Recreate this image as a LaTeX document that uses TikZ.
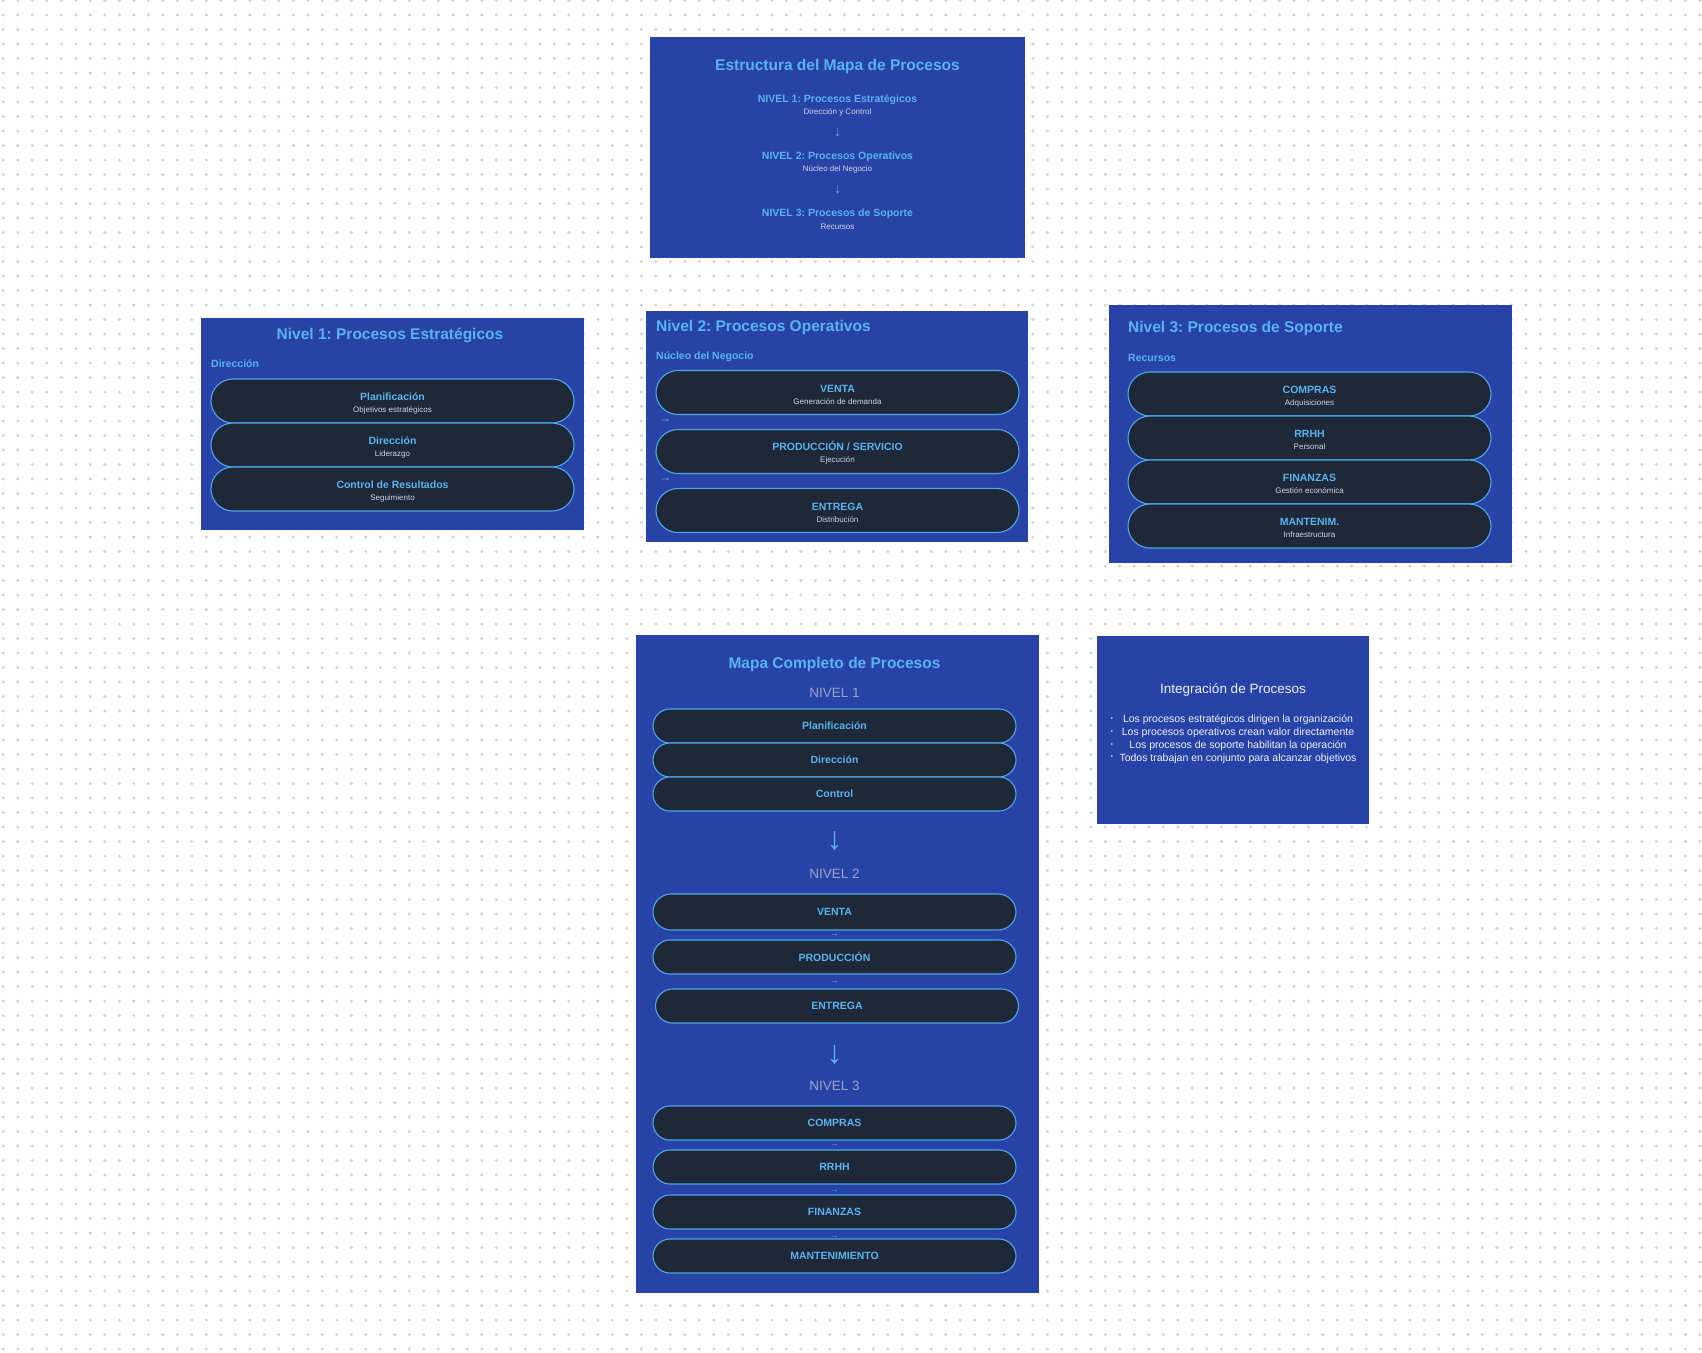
\documentclass[tikz,border=0pt]{standalone}
\usepackage{fontspec}
\setmainfont{Liberation Sans}
\usepackage{tikz}
\usetikzlibrary{positioning,shapes.misc}
\definecolor{panelblue}{HTML}{2843A8}
\definecolor{pillfill}{HTML}{1F2838}
\definecolor{pillline}{HTML}{4DA6E8}
\definecolor{lblue}{HTML}{58B3EF}
\definecolor{subgray}{HTML}{D2D6DE}
\definecolor{nivgray}{HTML}{9AA4C2}
\definecolor{softwhite}{HTML}{EEF1F8}
\definecolor{dotgray}{HTML}{D4D4D4}
\frenchspacing
\newcommand\pilltext[2]{{\fontsize{10.5}{12}\selectfont\bfseries\color{lblue}\rule{0pt}{12pt}#1}\\{\color{subgray}#2}}

\begin{document}
\begin{tikzpicture}[x=1pt,y=-1pt,node distance=0pt,
  panel/.style={fill=panelblue,anchor=north west,inner sep=0pt},
  pill/.style={rounded rectangle,draw=pillline,fill=pillfill,line width=1.1pt,outer sep=0pt,
    minimum width=363pt,minimum height=44pt,inner sep=0pt,align=center,font=\fontsize{8}{12}\selectfont},
  minipill/.style={pill,minimum height=34pt,font=\fontsize{10.5}{12}\selectfont\bfseries,text=lblue},
  head/.style={font=\fontsize{15.5}{18}\selectfont\bfseries,text=lblue,inner sep=0pt},
  tag/.style={font=\fontsize{10.5}{12}\selectfont\bfseries,text=lblue,inner sep=0pt},
  note/.style={font=\fontsize{8}{10}\selectfont,text=subgray,inner sep=0pt},
  nivel/.style={font=\fontsize{13.5}{16}\selectfont,text=nivgray,inner sep=0pt},
  flow/.style={font=\fontsize{14}{16}\selectfont,text=lblue,inner sep=0pt},
  point/.style={font=\fontsize{10.5}{12}\selectfont,text=softwhite,inner sep=0pt}]
\useasboundingbox (0,0) rectangle (1702,1352);
\fill[white] (0,0) rectangle (1702,1352);
% dot grid
\foreach \r in {0,...,93}
  \draw[dotgray,line width=3.4pt,line cap=round,dash pattern=on 0pt off 14.5pt] (3.3,0.5+14.5*\r) -- (1702,0.5+14.5*\r);

% estructura
\node[panel,minimum width=375pt,minimum height=221pt] (estr) at (650,37) {};
\node[head] (estrT) at (837.5,66.5) {Estructura del Mapa de Procesos};
\node[tag] (lv1) at (837.5,100) {NIVEL 1: Procesos Estratégicos};
\node[note] (lv1s) at (837.5,112.5) {Dirección y Control};
\node[flow] (dn1) at (837.5,133) {↓};
\node[tag] (lv2) at (837.5,157) {NIVEL 2: Procesos Operativos};
\node[note] (lv2s) at (837.5,169.5) {Núcleo del Negocio};
\node[flow] (dn2) at (837.5,190) {↓};
\node[tag] (lv3) at (837.5,214) {NIVEL 3: Procesos de Soporte};
\node[note] (lv3s) at (837.5,226.5) {Recursos};

% nivel 1
\node[panel,minimum width=383pt,minimum height=212pt] (niv1) at (201,318) {};
\node[head] (niv1T) at (390,335.5) {Nivel 1: Procesos Estratégicos};
\node[tag,anchor=west] (niv1L) at (211,364) {Dirección};
\node[pill] (plan) at (392.5,401) {\pilltext{Planificación}{Objetivos estratégicos}};
\node[pill,below=of plan] (direc) {\pilltext{Dirección}{Liderazgo}};
\node[pill,below=of direc] (ctrl) {\pilltext{Control de Resultados}{Seguimiento}};

% nivel 2
\node[panel,minimum width=382pt,minimum height=231pt] (niv2) at (646,311) {};
\node[head,anchor=west] (niv2T) at (656,327.5) {Nivel 2: Procesos Operativos};
\node[tag,anchor=west] (niv2L) at (656,357) {Núcleo del Negocio};
\node[pill] (venta) at (837.5,392.5) {\pilltext{VENTA}{Generación de demanda}};
\node[pill,below=15pt of venta] (prod) {\pilltext{PRODUCCIÓN / SERVICIO}{Ejecución}};
\node[pill,below=15pt of prod] (entr) {\pilltext{ENTREGA}{Distribución}};
\node[flow,font=\fontsize{12}{14}\selectfont] (rt1) at (665,421) {→};
\node[flow,font=\fontsize{12}{14}\selectfont] (rt2) at (665,480) {→};

% nivel 3
\node[panel,minimum width=403pt,minimum height=258pt] (niv3) at (1109,305) {};
\node[head,anchor=west] (niv3T) at (1128,328.5) {Nivel 3: Procesos de Soporte};
\node[tag,anchor=west] (niv3L) at (1128,358) {Recursos};
\node[pill] (comp) at (1309.5,394) {\pilltext{COMPRAS}{Adquisiciones}};
\node[pill,below=of comp] (rrhh) {\pilltext{RRHH}{Personal}};
\node[pill,below=of rrhh] (fin) {\pilltext{FINANZAS}{Gestión económica}};
\node[pill,below=of fin] (mant) {\pilltext{MANTENIM.}{Infraestructura}};

% mapa completo
\node[panel,minimum width=403pt,minimum height=658pt] (mapa) at (636,635) {};
\node[head] (mapaT) at (834.5,664.5) {Mapa Completo de Procesos};
\node[nivel] (m1) at (834.5,692.5) {NIVEL 1};
\node[minipill] (mplan) at (834.5,726) {Planificación};
\node[minipill,below=of mplan] (mdir) {Dirección};
\node[minipill,below=of mdir] (mctrl) {Control};
\node[flow,font=\fontsize{32}{34}\selectfont] (big1) at (834.5,841) {↓};
\node[nivel] (m2) at (834.5,873.5) {NIVEL 2};
\node[minipill,minimum height=36pt] (mventa) at (834.5,912) {VENTA};
\node[minipill,below=10pt of mventa] (mprod) {PRODUCCIÓN};
\node[minipill,below=15pt of mprod,xshift=2.5pt] (mentr) {ENTREGA};
\node[flow,font=\fontsize{32}{34}\selectfont] (big2) at (834.5,1055) {↓};
\node[nivel] (m3) at (834.5,1085.5) {NIVEL 3};
\node[minipill] (mcomp) at (834.5,1123) {COMPRAS};
\node[minipill,below=10pt of mcomp] (mrrhh) {RRHH};
\node[minipill,below=11pt of mrrhh] (mfin) {FINANZAS};
\node[minipill,below=10pt of mfin] (mmant) {MANTENIMIENTO};
\node[flow,font=\fontsize{8.5}{9}\selectfont] (t1) at (834.5,935) {→};
\node[flow,font=\fontsize{8.5}{9}\selectfont] (t2) at (834.5,982) {→};
\node[flow,font=\fontsize{8.5}{9}\selectfont] (t3) at (834.5,1145) {→};
\node[flow,font=\fontsize{8.5}{9}\selectfont] (t4) at (834.5,1191) {→};
\node[flow,font=\fontsize{8.5}{9}\selectfont] (t5) at (834.5,1237) {→};

% integracion
\node[panel,minimum width=272pt,minimum height=188pt] (integ) at (1097,636) {};
\node[point,font=\fontsize{13.5}{16}\selectfont] (integT) at (1233,689.5) {Integración de Procesos};
\node[point] (p1) at (1238,720) {Los procesos estratégicos dirigen la organización};
\node[point] (p2) at (1238,733) {Los procesos operativos crean valor directamente};
\node[point] (p3) at (1238,746) {Los procesos de soporte habilitan la operación};
\node[point] (p4) at (1238,758.5) {Todos trabajan en conjunto para alcanzar objetivos};
\node[point,font=\fontsize{6}{7}\selectfont] (b1) at (1112,719) {•};
\node[point,font=\fontsize{6}{7}\selectfont] (b2) at (1112,732) {•};
\node[point,font=\fontsize{6}{7}\selectfont] (b3) at (1112,745) {•};
\node[point,font=\fontsize{6}{7}\selectfont] (b4) at (1112,757.5) {•};
\end{tikzpicture}
\end{document}
